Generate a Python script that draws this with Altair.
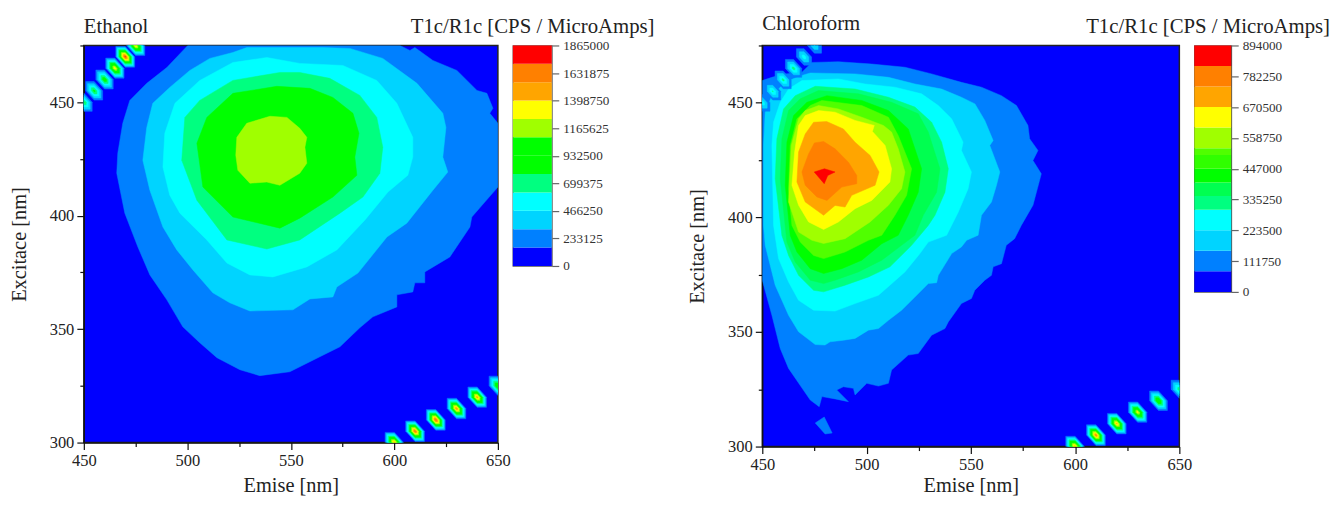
import altair as alt
import pandas as pd

FONT = "Liberation Serif"

# Band colours, low to high
colors_e = ["#0000ff", "#0080ff", "#00d4ff", "#00ffff", "#00ff80", "#00ff00", "#00ff00",
            "#a0ff00", "#ffff00", "#ffa500", "#ff8000", "#ff0000"]
ticks_e = [0, 233125, 466250, 699375, 932500, 1165625, 1398750, 1631875, 1865000]
ticks_c = [0, 111750, 223500, 335250, 447000, 558750, 670500, 782250, 894000]
band_e = 155416.67
band_c = 74500.0

# ---- Ethanol contour rings (Emise nm, Excitace nm) ----
E1 = [(500.2,475),(490.1,465.3),(480.4,458.3),(472.2,450.8),(468.8,440.7),(466.4,427.5),(465.9,418.7),
      (469.8,401.1),(476.1,386.2),(481.9,373.9),(490.1,362.9),(497.8,351),(506,344),(514.3,337.4),
      (525.4,332.1),(535,329.5),(549.5,331.2),(564,337.8),(573.7,342.2),(583.3,350.6),(589.6,355.4),
      (601.2,359.8),(601.2,365.1),(608.9,366.4),(609.9,370.4),(614.7,370.4),(614.7,375.2),(626.8,381.8),
      (636.5,395),(637.4,399.4),(650,412.6),(650,440.7),(646.1,445.1),(647.6,447.3),(644.7,453.9),
      (639.9,455.2),(630.2,464),(618.6,468.4),(609.9,474.1),(607.5,472.8),(602.7,475)]
E2 = [(528.7,474.1),(522,471.9),(510.9,469.3),(501.2,464),(491.5,456.5),(483.3,449.5),(480.4,438.9),
      (478.5,424.4),(481.9,411.2),(488.2,395),(494.9,384.9),(502.7,376.1),(512.3,366),(520.5,361.6),
      (530.2,358),(551,358.5),(559.2,363.3),(570.3,364.2),(572.2,368.6),(582.4,374.7),(596.4,390.6),
      (606,396.7),(618.6,411.2),(625.8,419.2),(623.4,425.8),(624.9,438.9),(623.4,445.1),(610.9,458.3),
      (594.4,469.3),(578.5,473.7),(565.5,474.1)]
E3 = [(538.4,469.7),(522,467.5),(506,459.6),(494,449.5),(489.1,436.3),(488.2,421.4),(491.5,409),
      (496.4,401.1),(509.4,389.3),(519.1,379.1),(530.2,373.9),(541.3,373),(557.7,377.4),(572.2,384.9),
      (585.8,398.1),(596.9,410.4),(606.5,417.8),(608.9,425.8),(608.9,434.5),(601.2,449.5),(591.5,459.6),
      (575.1,466.2),(554.3,467.1)]
E4 = [(544.7,463.1),(522,459.6),(506,450.8),(498.8,443.3),(497.3,424.4),(504.6,406.8),(519.1,389.3),
      (538.4,385.3),(554.3,389.3),(573.7,401.1),(584.8,408.2),(593,418.7),(594.4,430.2),(591.5,443.3),
      (583.3,453),(568.8,460.5),(554.3,463.1)]
E5 = [(543.2,457),(522,453.9),(509.4,443.3),(504.6,431.9),(507.5,412.6),(522,399.4),(544.7,394.5),
      (554.3,398.9),(570.3,408.2),(581.9,417.8),(580.9,425.8),(582.9,436.3),(580,445.1),(570.3,452.1),
      (559.2,456.1)]
E6 = [(539.9,443.8),(548.1,443.3),(554.3,438.5),(557.7,434.5),(556.8,430.2),(557.7,423.1),(554.3,418.7),
      (544.7,413.4),(538.4,414.8),(530.2,414.3),(524.4,420),(523.4,426.6),(523.9,434.5),(528.7,440.7)]
rings_e = [(E1, "#0080ff"), (E2, "#00d4ff"), (E3, "#00ffff"), (E4, "#00ff80"), (E5, "#00ff00"), (E6, "#a0ff00")]

peaks_e = [(450,450,800000),(455,455,850000),(460,460,950000),(465,465,1350000),(470,470,1750000),(475,475,1400000),
           (600,300,1500000),(610,305,1650000),(620,310,1700000),(630,315,1550000),(640,320,1500000),(650,325,1050000)]

# ---- Chloroform contour rings ----
C1 = [(473.8,467.6),(486.5,467.9),(502.5,466.9),(518.4,465.5),(531.2,462.6),(545.5,458.9),(555.1,456.8),
      (564.7,453.1),(571.9,448.8),(577.4,440.1),(578.2,434.3),(582.2,429.2),(579.8,424.8),(583.8,419),
      (579.8,405.3),(574.2,396.5),(571,390.7),(567,387.8),(564.7,379.8),(560.7,378.4),(559.9,374.7),
      (556.7,372.6),(551.9,368.2),(550.3,364.6),(545.5,362.4),(539.2,354.4),(537.6,351.5),(531.2,348.6),
      (524.8,340.6),(520,339.9),(512,333.4),(510.5,327.6),(505.7,326.4),(500.1,327.6),(494.5,322.5),
      (493.7,325.4),(488.9,326.1),(485.7,324.7),(491.3,319.6),(484.9,320.8),(478.6,321.8),(477.3,317.4),
      (473,320.3),(462.6,334.1),(458.6,342.8),(454.6,357.3),(450,372.6),(450,459.7),(454.6,461.1),
      (461,462.6),(469,463.3)]
C1b = [(475.4,310.3),(479.7,312.9),(483.5,305.9),(480.1,305.5)]
C2 = [(473,463),(494.5,462.6),(510.5,461.1),(523.2,458.2),(536,456),(545.5,452.4),(552,449.5),(556.7,442.3),
      (560.7,433.5),(559.1,431.4),(563.9,419.8),(562.3,414),(559.9,406.7),(555.1,400.9),(553.5,392.2),
      (548,390),(545.5,387.1),(540.8,384.2),(534.4,374.7),(533.6,371.5),(529.6,371.1),(523.2,365.3),
      (516.8,359.5),(510.5,355.1),(505.7,351.5),(500.9,350.8),(494.5,347.2),(488.9,346.4),(482.5,345.7),
      (480.1,344.3),(475.4,344.5),(467.4,350.1),(462.6,357.3),(456.2,370.4),(451.4,387.8),(450.6,396.5),
      (450.6,431.4),(451.4,445.9),(454.6,453.1),(461,458.9),(467.4,461.5)]
C3 = [(469,459.7),(486.5,460.4),(499.3,458.2),(513.6,456.8),(526.4,453.9),(534.4,448.8),(540.8,443),
      (546.3,432.8),(545.5,429.2),(550.3,419.8),(548.7,412.5),(544,402.3),(538.4,392.2),(529.6,389.2),
      (525.6,384.2),(518.4,376.2),(511.2,370.4),(505.7,366),(494.5,362.4),(484.9,359.1),(474.6,359.5),
      (467.4,363.8),(462.6,371.8),(457.8,382),(455.4,396.5),(454.6,431.4),(455.4,441.5),(458.6,450.2),
      (462.6,456)]
C4 = [(475.4,457.2),(494.5,456),(510.5,452.4),(523.2,448.1),(531.2,441.5),(536,432.8),(539.2,421.2),
      (537.6,411),(532.8,400.9),(529.6,396.5),(521.6,387.8),(511.2,378.4),(500.9,374),(489.7,370.4),
      (479.4,367.5),(474.6,368.2),(467.4,374.7),(462.6,383.4),(459.4,392.1),(456.2,416.9),(457,434.3),
      (460.2,447.3),(465.8,453.1)]
C5 = [(476.9,455.3),(496.1,453.9),(512,450.2),(524.8,445.2),(529.6,437.2),(535.2,421.2),(533.6,411),
      (527.2,400.9),(523.2,392.2),(516.8,387.8),(507.3,381.3),(496.1,376.2),(484.9,372.6),(479.4,371.1),
      (473,372.6),(465.8,380.5),(461.8,389.2),(458.6,416.9),(459.4,434.3),(462.6,446.6),(468.2,451.7)]
C6 = [(481,453.1),(497.7,451),(510.5,446.6),(520,438.6),(526.4,421.2),(524.8,411),(520,400.9),(515.2,392.2),
      (507.3,388.5),(497.7,381.3),(488.1,377.6),(479.4,375.5),(473,377.6),(466.6,384.9),(463.4,392.1),
      (461,414),(461.8,432.8),(465,444.4),(471.4,450.2)]
C7 = [(478.6,451),(497.7,448.8),(510.5,443.7),(515.2,435.7),(521.6,421.2),(519.2,409.6),(513.6,400.9),
      (507.3,392.2),(500.9,390),(489.7,384.9),(479.4,382),(474.6,383.4),(468.2,389.2),(464.2,396.5),
      (462.6,412.5),(463.4,431.4),(466.6,443),(473,448.8)]
C8 = [(477,448.8),(486.5,447.3),(497.7,443.7),(508.1,440.1),(512,437.2),(515.2,429.9),(518.4,419.8),
      (516.8,412.5),(510.5,405.3),(501.7,398),(489.7,390.7),(479.4,388.6),(473.8,390),(467.4,393.6),
      (462.6,406.7),(463.1,416.9),(463.9,431.4),(467.4,443),(470.6,446.6)]
C9 = [(470.6,444.4),(477,446.6),(484.9,445.9),(494.5,442.3),(503.7,440.1),(502.8,437.5),(508.9,431.4),
      (512,421.2),(511.2,415.4),(502.5,407.4),(494.5,403.8),(486.5,398),(479.4,394.7),(472.2,398),
      (467.4,405.3),(464.2,414),(465.5,428.5),(467.4,440.1)]
C10 = [(474.6,441.5),(480.9,441.8),(488.9,438.6),(494.5,432.8),(501.7,427),(506,419.8),(504.1,414),
       (492.9,409.6),(489.7,404.5),(484.9,405.2),(479.4,400.9),(470.6,406.7),(466.6,415.4),(467.4,428.5),
       (470.6,436.4)]
C11 = [(475,432.5),(479.4,433.1),(484.9,429.9),(491.3,424.1),(495.3,418.3),(495.3,414.7),(488.1,413.2),
       (481,407.4),(476.2,408.9),(470.6,414),(469,419.8),(472.2,427.7)]
C12 = [(474.9,419.8),(479.8,421.2),(484.9,419.8),(481.4,418.3),(479.7,414.7)]
rings_c = [(C1, "#0080ff"), (C1b, "#0080ff"), (C2, "#00d4ff"), (C3, "#00ffff"), (C4, "#00ff80"), (C5, "#00ff50"),
           (C6, "#00ff00"), (C7, "#50ff00"), (C8, "#a0ff00"), (C9, "#ffff00"), (C10, "#ffa500"),
           (C11, "#ff8000"), (C12, "#ff0000")]
peaks_c = [(450,450,280000),(455,455,310000),(460,460,330000),(465,465,340000),(470,470,270000),(475,475,230000),
           (600,300,720000),(610,305,760000),(620,310,700000),(630,315,630000),(640,320,500000),(650,325,350000)]

# hexagon outline of a single-cell peak on the 5 nm grid
HEX = [(-1, 1), (0, 1), (1, 0), (1, -1), (0, -1), (-1, 0)]


def contour_table(rings, peaks, band, band_colors):
    rows = []
    rid = 0
    for pts, col in rings:
        for i, (a, b) in enumerate(pts):
            rows.append({"em": a, "ex": b, "ring": rid, "i": i, "col": col})
        rid += 1
    for cx, cy, top in peaks:
        for k in range(1, len(band_colors)):
            lev = band * k
            if lev >= top:
                break
            r = 5 * (1 - lev / top)
            for i, (a, b) in enumerate(HEX):
                rows.append({"em": cx + a * r, "ex": cy + b * r, "ring": rid, "i": i, "col": band_colors[k]})
            rid += 1
    return pd.DataFrame(rows)


def panel(df, name, w, h, px, name_y, title_pad):
    xax = alt.Axis(values=[450, 475, 500, 525, 550, 575, 600, 625, 650], title="Emise [nm]",
                   labelExpr="datum.value % 50 == 0 ? datum.value : ''", labelFlush=False,
                   tickSize=alt.expr("datum.value % 50 == 0 ? 7 : 4"),
                   titlePadding=title_pad, labelPadding=3)
    yax = alt.Axis(values=[300, 325, 350, 375, 400, 425, 450, 475], title="Excitace [nm]",
                   labelExpr="datum.value % 50 == 0 ? datum.value : ''", labelFlush=False,
                   tickSize=alt.expr("datum.value % 50 == 0 ? 7 : 4"),
                   titlePadding=20, labelPadding=3)
    base = alt.Chart(df).mark_line(clip=True, strokeWidth=0.5, interpolate="linear-closed").encode(
        x=alt.X("em:Q", scale=alt.Scale(domain=[450, 650], nice=False, zero=False), axis=xax),
        y=alt.Y("ex:Q", scale=alt.Scale(domain=[300, 475], nice=False, zero=False), axis=yax),
        fill=alt.Fill("col:N", scale=None),
        stroke=alt.Stroke("col:N", scale=None),
        detail="ring:N",
        order="i:Q",
    )
    t1 = alt.Chart(pd.DataFrame({"t": [name]})).mark_text(
        font=FONT, fontSize=20.8, align="left", baseline="alphabetic", color="#222222"
    ).encode(text="t:N", x=alt.value(0), y=alt.value(name_y))
    t2 = alt.Chart(pd.DataFrame({"t": ["T1c/R1c [CPS / MicroAmps]"]})).mark_text(
        font=FONT, fontSize=20.8, align="right", baseline="alphabetic", color="#222222"
    ).encode(text="t:N", x=alt.value(px), y=alt.value(-13))
    return alt.layer(base, t1, t2).properties(
        width=w, height=h, view=alt.ViewConfig(fill="#0000ff", stroke="#222222", strokeWidth=1.5))


def legend(lows, highs, cols, ticks, w, h):
    d = pd.DataFrame({"lo": lows, "hi": highs, "col": cols})
    return alt.Chart(d).mark_rect().encode(
        y=alt.Y("lo:Q", scale=alt.Scale(domain=[ticks[0], ticks[-1]], nice=False, zero=False),
                axis=alt.Axis(orient="right", values=ticks, title=None, format="d", labelFontSize=13.2,
                              tickSize=7, tickColor="#666666", domain=False, labelPadding=4,
                              labelColor="#333333")),
        y2="hi:Q",
        fill=alt.Fill("col:N", scale=None),
    ).properties(width=w, height=h, view=alt.ViewConfig(stroke="#555555", strokeWidth=1.2))


lows_e = [band_e * i for i in range(12)]
highs_e = [band_e * (i + 1) for i in range(12)]
edges_c = [0, 1, 2, 3, 4, 4.67, 5.33, 6, 6.67, 7, 8, 9, 10, 11, 12]
cols_cl = ["#0000ff", "#0080ff", "#00d4ff", "#00ffff", "#00ff80", "#00ff50", "#00ff00", "#30ff00", "#50ff00",
           "#a0ff00", "#ffff00", "#ffa500", "#ff8000", "#ff0000"]
lows_c = [band_c * e for e in edges_c[:-1]]
highs_c = [band_c * e for e in edges_c[1:]]

df_e = contour_table(rings_e, peaks_e, band_e, colors_e)
df_c = contour_table(rings_c, peaks_c, band_c, colors_e)

# empty spacer view between the two panels
spacer = alt.Chart(pd.DataFrame({"a": [0]})).mark_point(opacity=0).encode(
    x=alt.X("a:Q", axis=None), y=alt.Y("a:Q", axis=None)
).properties(width=181, height=10, view=alt.ViewConfig(stroke=None))

chart = alt.hconcat(
    panel(df_e, "Ethanol", 415, 398, 572, -13, 6.5),
    legend(lows_e, highs_e, colors_e, ticks_e, 39, 221),
    spacer,
    panel(df_c, "Chloroform", 418, 402, 569, -16, 2.5),
    legend(lows_c, highs_c, cols_cl, ticks_c, 37, 247),
    spacing=15, bounds="flush",
).properties(
    padding={"left": 0, "top": 3, "right": 0, "bottom": 0}
).configure_axis(
    labelFont=FONT, titleFont=FONT, labelFontSize=16.5, titleFontSize=20.4, titleFontWeight="normal",
    labelColor="#222222", titleColor="#222222", domainColor="#111111", tickColor="#111111",
    domainWidth=1.2, tickWidth=1.2, grid=False,
)

chart.save("out.html", embed_options={"renderer": "svg", "actions": False})
